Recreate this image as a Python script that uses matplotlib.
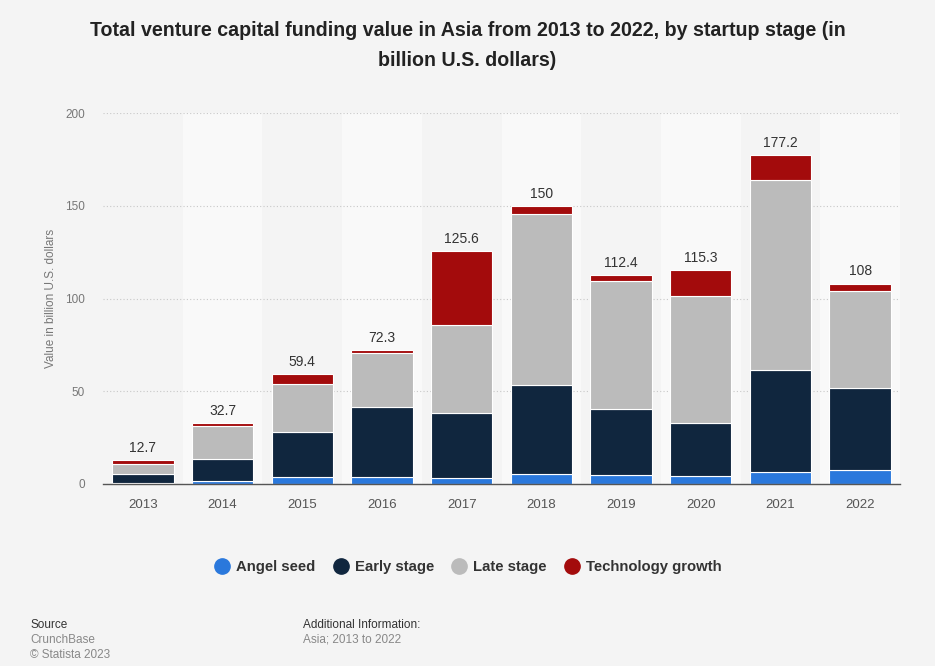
import matplotlib
matplotlib.use("Agg")
import matplotlib.pyplot as plt
from matplotlib.lines import Line2D
import numpy as np

plt.rcParams['font.family'] = ['Liberation Sans', 'DejaVu Sans']

years = ['2013', '2014', '2015', '2016', '2017', '2018', '2019', '2020', '2021', '2022']
angel_seed = [0.8, 1.8, 3.9, 3.9, 3.1, 5.4, 4.7, 4.3, 6.3, 7.5]
early_stage = [4.6, 11.9, 24.0, 37.8, 35.4, 48.2, 35.6, 28.8, 55.2, 44.1]
late_stage = [5.6, 17.8, 26.1, 28.8, 47.3, 91.7, 69.4, 68.4, 102.2, 52.6]
tech_growth = [1.7, 1.2, 5.4, 1.8, 39.8, 4.7, 2.7, 13.8, 13.5, 3.8]
totals = [12.7, 32.7, 59.4, 72.3, 125.6, 150, 112.4, 115.3, 177.2, 108]
total_labels = ['12.7', '32.7', '59.4', '72.3', '125.6', '150', '112.4', '115.3', '177.2', '108']

series = [
    ('Angel seed', angel_seed, '#2a78dc'),
    ('Early stage', early_stage, '#10263e'),
    ('Late stage', late_stage, '#bbbbbb'),
    ('Technology growth', tech_growth, '#a30b0c'),
]

bg = '#f4f4f4'
fig = plt.figure(figsize=(9.35, 6.66), dpi=100, facecolor=bg)
ax = fig.add_axes([103/935, 1-484/666, (900-103)/935, (484-113)/666])
ax.set_facecolor(bg)

x = np.arange(len(years))
# alternating column bands
for i in x:
    if i % 2 == 1:
        ax.axvspan(i-0.5, i+0.5, color='#f9f9f9', zorder=0, lw=0)

bottom = np.zeros(len(years))
for name, vals, col in series:
    ax.bar(x, vals, width=0.77, bottom=bottom, color=col, edgecolor='white',
           linewidth=0.8, zorder=3)
    bottom += np.array(vals)

for i, (t, lab) in enumerate(zip(totals, total_labels)):
    ax.text(i, t + 2.8, lab, ha='center', va='bottom', fontsize=10, color='#333333', zorder=4)

ax.set_xlim(-0.5, len(years)-0.5)
ax.set_ylim(0, 200)
ax.set_yticks([0, 50, 100, 150, 200])
ax.yaxis.grid(True, linestyle=(0, (1, 2)), color='#c8c8c8', linewidth=0.8, zorder=1)
ax.set_axisbelow(True)
for s in ['top', 'right', 'left']:
    ax.spines[s].set_visible(False)
ax.spines['bottom'].set_color('#555555')
ax.spines['bottom'].set_linewidth(1.0)
ax.spines['bottom'].set_zorder(5)
ax.set_xticks(x)
ax.set_xticklabels(years)
ax.tick_params(axis='x', length=0, pad=11, labelsize=9.5, labelcolor='#555555')
ax.tick_params(axis='y', length=0, pad=13, labelsize=8.5, labelcolor='#777777')
ax.set_ylabel('Value in billion U.S. dollars', fontsize=8.5, color='#777777')
ax.yaxis.set_label_coords(-0.058, 0.5)

fig.text(0.5, 1-31/666, 'Total venture capital funding value in Asia from 2013 to 2022, by startup stage (in',
         ha='center', va='center', fontsize=14.1, fontweight='bold', color='#222222')
fig.text(0.5, 1-61/666, 'billion U.S. dollars)',
         ha='center', va='center', fontsize=14.1, fontweight='bold', color='#222222')

handles = [Line2D([0], [0], marker='o', color='none', markerfacecolor=c, markeredgecolor=c,
                  markersize=11) for _, _, c in series]
fig.legend(handles, [n for n, _, _ in series], loc='center', bbox_to_anchor=(466/935, 1-567/666),
           ncol=4, frameon=False, prop={'weight': 'bold', 'size': 10.7},
           handletextpad=0.15, columnspacing=0.9, handlelength=1.6, labelcolor='#333333')

fig.text(30/935, 1-625/666, 'Source', fontsize=8.5, color='#333333', va='center')
fig.text(30/935, 1-640/666, 'CrunchBase', fontsize=8.5, color='#888888', va='center')
fig.text(30/935, 1-655/666, '© Statista 2023', fontsize=8.5, color='#888888', va='center')
fig.text(303/935, 1-625/666, 'Additional Information:', fontsize=8.5, color='#333333', va='center')
fig.text(303/935, 1-640/666, 'Asia; 2013 to 2022', fontsize=8.5, color='#888888', va='center')

fig.savefig('out.png', dpi=100, facecolor=bg)
